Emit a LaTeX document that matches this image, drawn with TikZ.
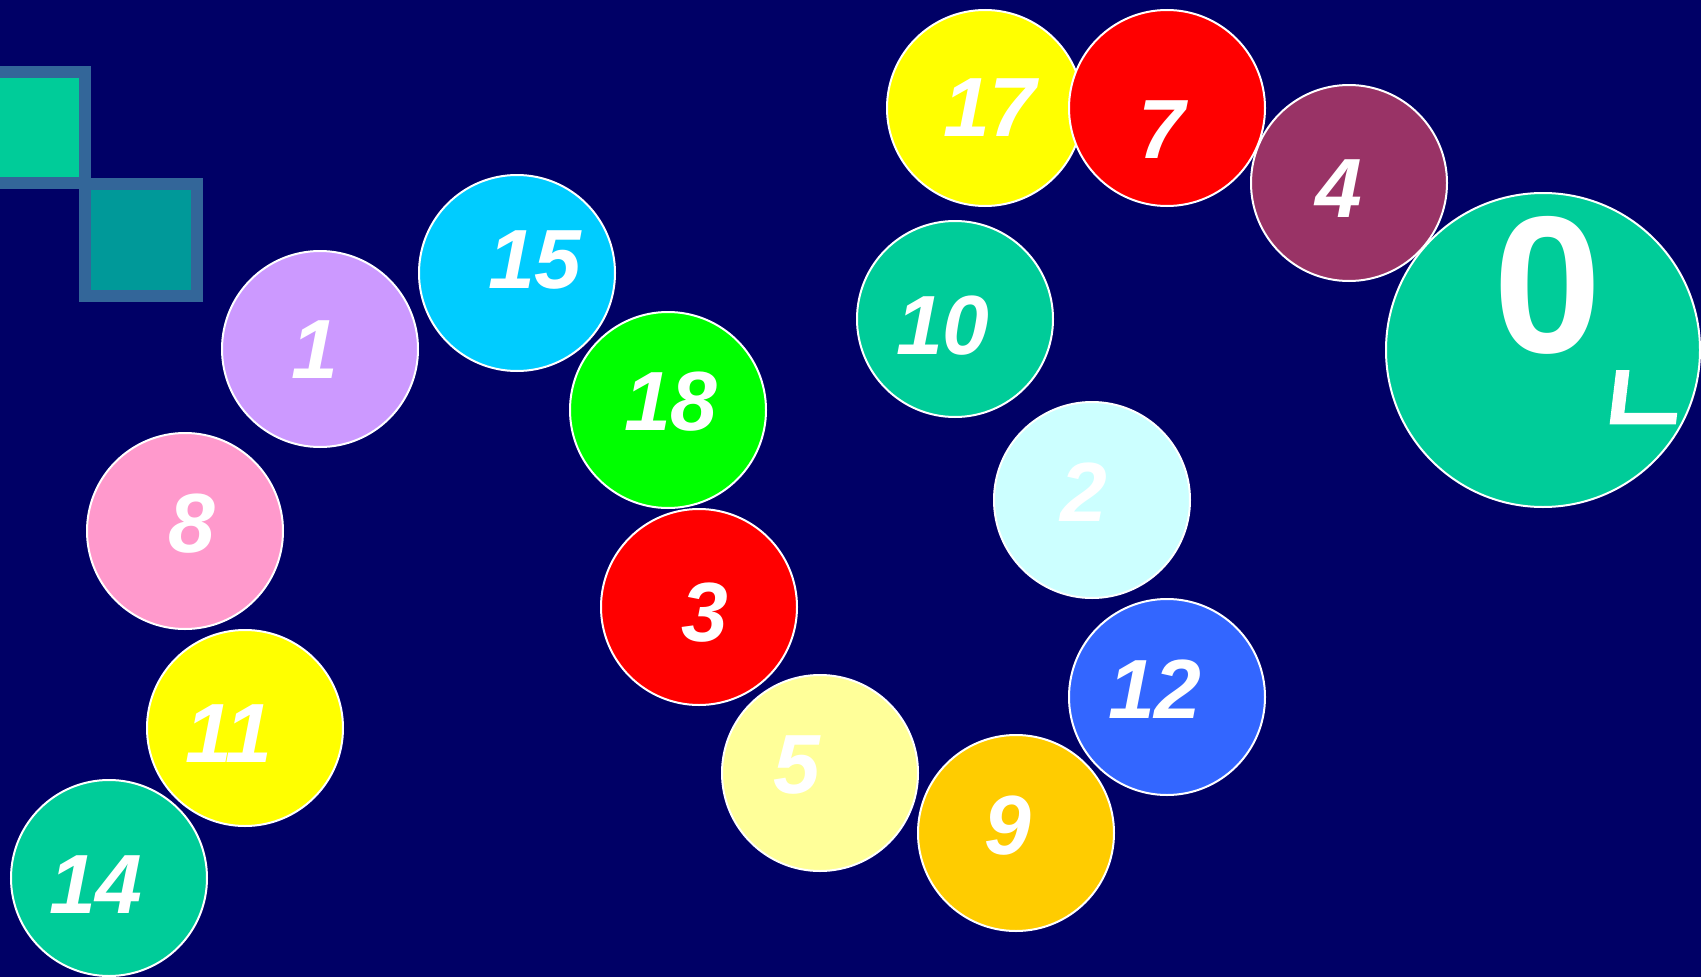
\documentclass[tikz,border=0pt]{standalone}
\usepackage{fontspec}
\setmainfont{Liberation Sans}
\newfontfamily\krfont[FakeSlant=0.12,FakeBold=4]{Noto Sans CJK KR}
\definecolor{bg}{HTML}{000066}
\definecolor{sqborder}{HTML}{336699}
\definecolor{sqA}{HTML}{00CC99}
\definecolor{sqB}{HTML}{009999}
\definecolor{cTeal}{HTML}{00CC99}
\definecolor{cYellow}{HTML}{FFFF00}
\definecolor{cRed}{HTML}{FF0000}
\definecolor{cMaroon}{HTML}{993366}
\definecolor{cCyan}{HTML}{00CCFF}
\definecolor{cLilac}{HTML}{CC99FF}
\definecolor{cGreen}{HTML}{00FF00}
\definecolor{cPink}{HTML}{FF99CC}
\definecolor{cIce}{HTML}{CCFFFF}
\definecolor{cBlue}{HTML}{3366FF}
\definecolor{cCream}{HTML}{FFFF99}
\definecolor{cGold}{HTML}{FFCC00}
\begin{document}
\begin{tikzpicture}[x=1pt,y=-1pt,
  ball/.style={circle, draw=white, line width=2pt, minimum size=196pt, inner sep=0pt, outer sep=0pt},
  bigball/.style={circle, draw=white, line width=2pt, minimum size=314pt, inner sep=0pt, outer sep=0pt},
  num/.style={text=white, font=\fontsize{84}{84}\selectfont\bfseries\itshape, inner sep=0pt},
  bignum/.style={text=white, font=\fontsize{195}{195}\selectfont\bfseries, inner sep=0pt},
  sq/.style={draw=sqborder, line width=12pt}]
\fill[bg] (0,0) rectangle (1701,977);
\useasboundingbox (0,0) rectangle (1701,977);
\clip (0,0) rectangle (1701,977);
% squares
\filldraw[sq, fill=sqA] (-26,72) rectangle (85,183);
\filldraw[sq, fill=sqB] (85,184) rectangle (197,296);
% big circle
\node[bigball, fill=cTeal] (c0) at (1543,350) {};
\node[bignum] (t0) at (1548,285) {0};
\node[text=white, inner sep=0pt, font=\krfont\fontsize{108}{108}\selectfont] (g0) at (1640,405) {ㄴ};
% circles
\node[ball, fill=cYellow] (c17) at (985,108) {};
\node[num] (t17) at (990,108) {17};
\node[ball, fill=cRed] (c7) at (1167,108) {};
\node[num] (t7) at (1162,130) {7};
\node[ball, fill=cMaroon] (c4) at (1349,183) {};
\node[num] (t4) at (1339,189) {4};
\node[ball, fill=cTeal] (c10) at (955,319) {};
\node[num] (t10) at (943,326) {10};
\node[ball, fill=cCyan] (c15) at (517,273) {};
\node[num] (t15) at (535,260) {15};
\node[ball, fill=cLilac] (c1) at (320,349) {};
\node[num] (t1) at (315,350) {1};
\node[ball, fill=cGreen] (c18) at (668,410) {};
\node[num] (t18) at (671,402) {18};
\node[ball, fill=cPink] (c8) at (185,531) {};
\node[num] (t8) at (192,524) {8};
\node[ball, fill=cRed] (c3) at (699,607) {};
\node[num] (t3) at (705,613) {3};
\node[ball, fill=cIce] (c2) at (1092,500) {};
\node[num] (t2) at (1084,492) {2};
\node[ball, fill=cBlue] (c12) at (1167,697) {};
\node[num] (t12) at (1155,689) {12};
\node[ball, fill=cYellow] (c11) at (245,728) {};
\node[num] (t11) at (229,734) {11};
\node[ball, fill=cCream] (c5) at (820,773) {};
\node[num] (t5) at (797,765) {5};
\node[ball, fill=cGold] (c9) at (1016,833) {};
\node[num] (t9) at (1008,826) {9};
\node[ball, fill=cTeal] (c14) at (109,878) {};
\node[num] (t14) at (96,885) {14};
\end{tikzpicture}
\end{document}
